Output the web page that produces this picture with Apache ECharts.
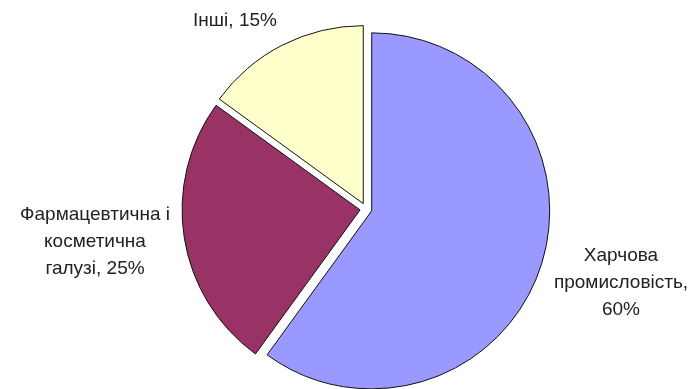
<!DOCTYPE html>
<html>
<head>
<meta charset="utf-8">
<script src="https://cdn.jsdelivr.net/npm/echarts@6/dist/echarts.min.js"></script>
<style>
  html, body { margin: 0; padding: 0; background: #ffffff; }
  #chart { width: 698px; height: 389px; }
</style>
</head>
<body>
<div id="chart"></div>
<script>
// Sectors, clockwise from 12 o'clock
const categories = ['Харчова\nпромисловість', 'Фармацевтична і\nкосметична\nгалузі', 'Інші'];
const shares = [60, 25, 15];
// Text joining each name to its percentage
const separators = [',\n', ', ', ', '];
const colors = ['#9999FF', '#993366', '#FFFFCC'];

// Where each sector's caption sits (centre of the text block)
const labelSpots = [
  { x: 621, y: 283 },
  { x: 95, y: 242 },
  { x: 235, y: 21 }
];

const chart = echarts.init(document.getElementById('chart'), null, { renderer: 'canvas' });

// Captions: sector name plus its share
const captions = categories.map((name, i) => ({
  type: 'text',
  x: labelSpots[i].x,
  y: labelSpots[i].y,
  silent: true,
  style: {
    text: name + separators[i] + shares[i] + '%',
    fill: '#222',
    fontFamily: 'Liberation Sans, Arial, sans-serif',
    fontSize: 19,
    lineHeight: 27,
    align: 'center',
    verticalAlign: 'middle'
  }
}));

chart.setOption({
  animation: false,
  backgroundColor: '#ffffff',
  graphic: captions,
  series: [{
    type: 'pie',
    center: [366, 209],
    radius: [0, 178],
    startAngle: 90,
    clockwise: true,
    selectedMode: 'multiple',
    selectedOffset: 6,
    silent: true,
    itemStyle: { borderColor: '#111', borderWidth: 1 },
    label: { show: false },
    labelLine: { show: false },
    data: categories.map((name, i) => ({
      name: name,
      value: shares[i],
      selected: true,
      itemStyle: { color: colors[i] }
    }))
  }]
});
</script>
</body>
</html>
